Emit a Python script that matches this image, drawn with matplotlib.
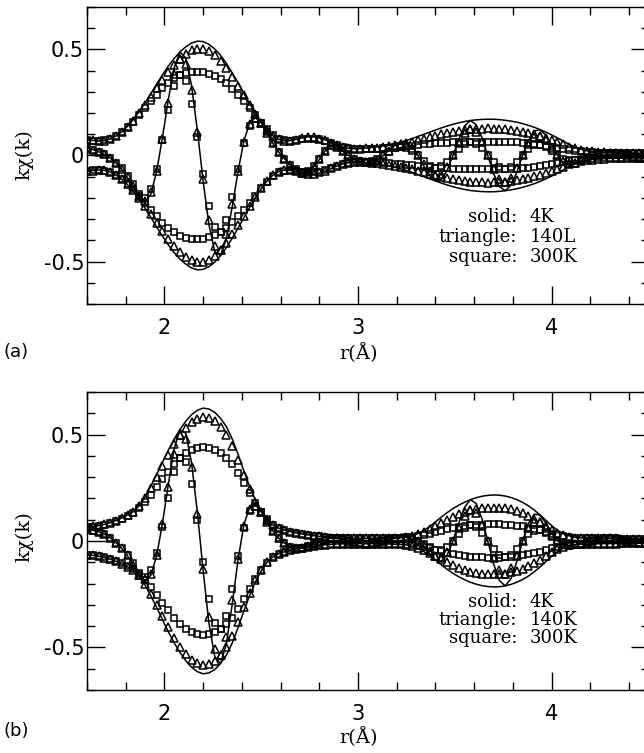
import numpy as np
import matplotlib
matplotlib.use('Agg')
import matplotlib.pyplot as plt
from matplotlib.ticker import MultipleLocator

# r grid (Angstrom)
r = [1.60, 1.63, 1.66, 1.69, 1.72, 1.75, 1.78, 1.81, 1.84, 1.87,
     1.90, 1.93, 1.96, 1.99, 2.02, 2.05, 2.08, 2.11, 2.14, 2.17,
     2.20, 2.23, 2.26, 2.29, 2.32, 2.35, 2.38, 2.41, 2.44, 2.47,
     2.50, 2.53, 2.56, 2.59, 2.62, 2.65, 2.68, 2.71, 2.74, 2.77,
     2.80, 2.83, 2.86, 2.89, 2.92, 2.95, 2.98, 3.01, 3.04, 3.07,
     3.10, 3.13, 3.16, 3.19, 3.22, 3.25, 3.28, 3.31, 3.34, 3.37,
     3.40, 3.43, 3.46, 3.49, 3.52, 3.55, 3.58, 3.61, 3.64, 3.67,
     3.70, 3.73, 3.76, 3.79, 3.82, 3.85, 3.88, 3.91, 3.94, 3.97,
     4.00, 4.03, 4.06, 4.09, 4.12, 4.15, 4.18, 4.21, 4.24, 4.27,
     4.30, 4.33, 4.36, 4.39, 4.42, 4.45, 4.48]

# ---- panel (a) ----
mag4a = [.075, .071, .068, .070, .078, .092, .112, .138, .170, .207,
         .248, .292, .337, .380, .421, .457, .488, .512, .530, .539,
         .537, .524, .502, .472, .434, .390, .343, .294, .245, .198,
         .156, .120, .093, .076, .069, .070, .076, .083, .088, .088,
         .083, .074, .062, .050, .040, .034, .032, .033, .035, .038,
         .041, .045, .050, .056, .063, .071, .080, .090, .100, .110,
         .120, .130, .139, .147, .154, .160, .165, .168, .170, .171,
         .171, .169, .166, .162, .157, .150, .142, .133, .122, .110,
         .097, .083, .068, .053, .040, .030, .023, .019, .017, .015,
         .014, .013, .013, .012, .012, .011, .011]
real4a = [.035, .028, .018, .005, -.012, -.035, -.065, -.105, -.150, -.195,
          -.223, -.182, -.075, .085, .262, .412, .488, .461, .330, .120,
          -.120, -.326, -.452, -.472, -.391, -.243, -.076, .066, .153, .178,
          .156, .108, .058, .017, -.015, -.044, -.068, -.083, -.079, -.055,
          -.019, .022, .050, .043, .020, 0, -.016, -.029, -.035, -.033,
          -.021, 0, .025, .048, .063, .061, .040, 0, -.050, -.095,
          -.120, -.113, -.070, 0, .077, .139, .165, .145, .085, 0,
          -.086, -.146, -.166, -.140, -.079, 0, .071, .115, .122, .095,
          .049, 0, -.034, -.046, -.040, -.026, -.012, 0, .009, .013,
          .014, .011, .007, 0, -.006, -.010, -.011]
mag140a = [.075, .071, .068, .070, .077, .090, .109, .134, .164, .199,
           .237, .278, .319, .358, .395, .428, .457, .479, .495, .503,
           .502, .491, .472, .445, .411, .371, .328, .283, .238, .194,
           .154, .120, .094, .077, .070, .070, .075, .081, .085, .085,
           .080, .071, .060, .049, .040, .034, .032, .032, .033, .035,
           .037, .040, .044, .048, .053, .059, .065, .072, .079, .086,
           .093, .100, .106, .112, .117, .121, .124, .126, .127, .128,
           .127, .126, .124, .121, .117, .112, .106, .099, .091, .082,
           .072, .062, .052, .042, .034, .027, .022, .019, .017, .015,
           .014, .013, .013, .012, .012, .011, .011]
real140a = [.035, .028, .018, .005, -.012, -.034, -.062, -.100, -.143, -.190,
            -.214, -.173, -.071, .080, .246, .386, .457, .432, .308, .112,
            -.112, -.306, -.425, -.445, -.370, -.231, -.073, .063, .148, .175,
            .154, .108, .059, .017, -.016, -.044, -.068, -.081, -.077, -.053,
            -.018, .021, .048, .042, .020, 0, -.016, -.028, -.033, -.030,
            -.019, 0, .022, .042, .053, .051, .033, 0, -.040, -.074,
            -.093, -.087, -.053, 0, .059, .105, .124, .109, .064, 0,
            -.064, -.109, -.124, -.105, -.059, 0, .053, .086, .091, .071,
            .036, 0, -.026, -.036, -.034, -.023, -.011, 0, .009, .013,
            .014, .011, .007, 0, -.006, -.010, -.011]
mag300a = [.074, .070, .068, .071, .079, .092, .110, .133, .160, .190,
           .222, .255, .287, .317, .343, .363, .378, .388, .393, .394,
           .392, .386, .375, .360, .340, .315, .287, .256, .223, .189,
           .155, .124, .098, .080, .071, .069, .072, .077, .080, .080,
           .076, .068, .058, .048, .040, .034, .031, .030, .030, .031,
           .032, .034, .036, .038, .040, .043, .046, .049, .052, .055,
           .057, .059, .061, .062, .063, .064, .064, .065, .065, .065,
           .065, .064, .064, .063, .062, .060, .058, .055, .051, .047,
           .042, .037, .032, .027, .023, .020, .017, .015, .014, .013,
           .012, .012, .011, .011, .010, .010, .010]
real300a = [.034, .027, .017, .005, -.012, -.034, -.060, -.095, -.135, -.180,
            -.200, -.159, -.064, .071, .214, .327, .378, .350, .245, .088,
            -.087, -.240, -.338, -.360, -.306, -.196, -.064, .057, .139, .170,
            .155, .112, .061, .018, -.016, -.043, -.065, -.077, -.072, -.050,
            -.017, .020, .046, .042, .020, 0, -.016, -.026, -.030, -.027,
            -.016, 0, .018, .033, .040, .037, .023, 0, -.026, -.048,
            -.057, -.051, -.031, 0, .032, .055, .064, .056, .033, 0,
            -.033, -.055, -.064, -.055, -.031, 0, .029, .048, .051, .041,
            .021, 0, -.016, -.023, -.023, -.017, -.009, 0, .007, .011,
            .012, .010, .006, 0, -.005, -.009, -.010]

# ---- panel (b) ----
mag4b = [.065, .068, .072, .078, .086, .096, .108, .122, .138, .165,
         .207, .258, .312, .370, .426, .478, .523, .562, .593, .614,
         .624, .620, .604, .576, .537, .480, .408, .330, .256, .192,
         .140, .100, .075, .060, .051, .044, .038, .033, .029, .025,
         .021, .018, .016, .014, .013, .012, .012, .012, .012, .012,
         .013, .013, .014, .015, .016, .019, .025, .035, .050, .068,
         .090, .112, .133, .152, .168, .182, .194, .203, .210, .214,
         .216, .215, .211, .204, .194, .181, .165, .145, .122, .097,
         .072, .050, .034, .024, .018, .015, .014, .013, .013, .012,
         .012, .012, .011, .011, .011, .010, .010]
real4b = [.055, .050, .043, .032, .015, -.008, -.035, -.070, -.115, -.160,
          -.187, -.161, -.070, .083, .265, .431, .523, .506, .369, .137,
          -.139, -.386, -.544, -.576, -.484, -.299, -.091, .074, .159, .173,
          .140, .090, .047, .013, -.011, -.027, -.034, -.033, -.026, -.016,
          -.005, .004, .014, .012, .007, 0, -.006, -.010, -.012, -.010,
          -.007, 0, .007, .013, .016, .016, .013, 0, -.025, -.059,
          -.090, -.097, -.067, 0, .084, .158, .194, .176, .105, 0,
          -.108, -.186, -.211, -.177, -.097, 0, .083, .126, .122, .084,
          .036, 0, -.017, -.021, -.018, -.013, -.007, 0, .007, .010,
          .012, .010, .006, 0, -.006, -.009, -.010]
mag140b = [.065, .068, .072, .078, .086, .095, .107, .121, .136, .162,
           .201, .249, .300, .354, .406, .454, .496, .531, .557, .574,
           .581, .577, .562, .535, .498, .446, .381, .311, .243, .184,
           .136, .099, .075, .060, .051, .044, .038, .033, .029, .025,
           .021, .018, .016, .014, .013, .012, .012, .012, .012, .012,
           .013, .013, .014, .015, .016, .018, .023, .031, .042, .055,
           .070, .085, .100, .114, .126, .136, .144, .150, .154, .156,
           .157, .156, .153, .148, .141, .131, .119, .104, .088, .070,
           .053, .038, .027, .020, .016, .014, .014, .013, .013, .012,
           .012, .012, .011, .011, .011, .010, .010]
real140b = [.055, .050, .043, .032, .015, -.008, -.034, -.068, -.112, -.158,
            -.181, -.155, -.067, .079, .253, .409, .496, .478, .347, .128,
            -.130, -.359, -.506, -.535, -.449, -.278, -.085, .069, .151, .166,
            .136, .089, .047, .013, -.011, -.027, -.034, -.033, -.026, -.016,
            -.005, .004, .014, .012, .007, 0, -.006, -.010, -.012, -.010,
            -.007, 0, .007, .013, .016, .016, .012, 0, -.021, -.048,
            -.070, -.074, -.050, 0, .063, .118, .144, .130, .077, 0,
            -.079, -.135, -.153, -.128, -.071, 0, .060, .090, .088, .061,
            .027, 0, -.014, -.017, -.016, -.012, -.007, 0, .007, .010,
            .012, .010, .006, 0, -.006, -.009, -.010]
mag300b = [.064, .067, .071, .077, .085, .094, .105, .118, .133, .155,
           .185, .218, .253, .290, .326, .360, .389, .412, .428, .437,
           .440, .437, .428, .412, .390, .360, .320, .274, .224, .177,
           .136, .102, .077, .061, .051, .044, .038, .033, .029, .025,
           .021, .018, .016, .014, .013, .012, .012, .012, .012, .012,
           .013, .013, .014, .015, .016, .017, .020, .024, .029, .035,
           .042, .049, .056, .062, .067, .071, .074, .076, .077, .078,
           .078, .078, .077, .075, .072, .068, .063, .057, .050, .042,
           .034, .027, .021, .017, .015, .014, .013, .013, .012, .012,
           .012, .012, .011, .011, .011, .010, .010]
real300b = [.054, .049, .042, .031, .014, -.008, -.033, -.065, -.105, -.150,
            -.167, -.136, -.056, .065, .203, .324, .389, .371, .267, .097,
            -.098, -.272, -.386, -.412, -.351, -.224, -.071, .061, .140, .159,
            .136, .092, .048, .014, -.011, -.027, -.034, -.033, -.026, -.016,
            -.005, .004, .014, .012, .007, 0, -.006, -.010, -.012, -.010,
            -.007, 0, .007, .013, .015, .015, .010, 0, -.015, -.030,
            -.042, -.042, -.028, 0, .034, .061, .074, .066, .039, 0,
            -.039, -.068, -.077, -.065, -.036, 0, .032, .049, .050, .036,
            .017, 0, -.011, -.015, -.015, -.012, -.007, 0, .006, .010,
            .012, .010, .006, 0, -.006, -.009, -.010]

legend_keys = ['solid:', 'triangle:', 'square:']
legend_vals_a = ['4K', '140L', '300K']
legend_vals_b = ['4K', '140K', '300K']

serif = ['DejaVu Serif']
sans = ['DejaVu Sans']

fig = plt.figure(figsize=(6.44, 7.53), dpi=100)


def panel(ax, mags, reals, vals, rows):
    m4, m140, m300 = [np.array(m) for m in mags]
    q4, q140, q300 = reals
    sq = dict(marker='s', ls='none', ms=4.6, mfc='none', mec='k', mew=1.1)
    tr = dict(marker='^', ls='none', ms=5.4, mfc='none', mec='k', mew=1.1)
    for y in (m300, -m300, q300):
        ax.plot(r, y, **sq)
    for y in (m140, -m140, q140):
        ax.plot(r, y, **tr)
    for y in (m4, -m4, q4):
        ax.plot(r, y, color='k', lw=1.1)
    ax.set_xlim(1.6, 4.5)
    ax.set_ylim(-0.7, 0.7)
    ax.xaxis.set_major_locator(MultipleLocator(1))
    ax.xaxis.set_minor_locator(MultipleLocator(0.2))
    ax.yaxis.set_major_locator(MultipleLocator(0.5))
    ax.yaxis.set_minor_locator(MultipleLocator(0.1))
    ax.yaxis.set_major_formatter(plt.FuncFormatter(lambda v, p: '{0:g}'.format(round(v, 2))))
    ax.tick_params(which='both', direction='in', top=True, right=True, width=1)
    ax.tick_params(which='major', length=13)
    ax.tick_params(which='minor', length=6)
    ax.tick_params(axis='x', pad=10, labelsize=15)
    ax.tick_params(axis='y', pad=2, labelsize=15)
    for lbl in ax.get_xticklabels() + ax.get_yticklabels():
        lbl.set_family(sans)
    for s in ax.spines.values():
        s.set_linewidth(1)
    for key, val, yy in zip(legend_keys, vals, rows):
        ax.text(0.766, yy, key, transform=ax.transAxes, ha='right', va='center',
                family=serif, fontsize=13)
        ax.text(0.788, yy, val, transform=ax.transAxes, ha='left', va='center',
                family=serif, fontsize=13)


axa = fig.add_axes([0.135, 0.5963, 0.872, 0.3944])
panel(axa, (mag4a, mag140a, mag300a), (real4a, real140a, real300a),
      legend_vals_a, [0.293, 0.226, 0.158])
axb = fig.add_axes([0.135, 0.0837, 0.872, 0.3958])
panel(axb, (mag4b, mag140b, mag300b), (real4b, real140b, real300b),
      legend_vals_b, [0.295, 0.234, 0.174])

fig.text(0.006, 0.5325, '(a)', family=sans, fontsize=13, va='center')
fig.text(0.006, 0.0292, '(b)', family=sans, fontsize=13, va='center')
fig.text(0.556, 0.531, 'r(Å)', family=serif, fontsize=14, ha='center', va='center')
fig.text(0.556, 0.021, 'r(Å)', family=serif, fontsize=14, ha='center', va='center')
fig.text(0.038, 0.794, 'kχ(k)', family=serif, fontsize=14, rotation=90, ha='center', va='center')
fig.text(0.038, 0.287, 'kχ(k)', family=serif, fontsize=14, rotation=90, ha='center', va='center')

fig.savefig('out.png', dpi=100)
